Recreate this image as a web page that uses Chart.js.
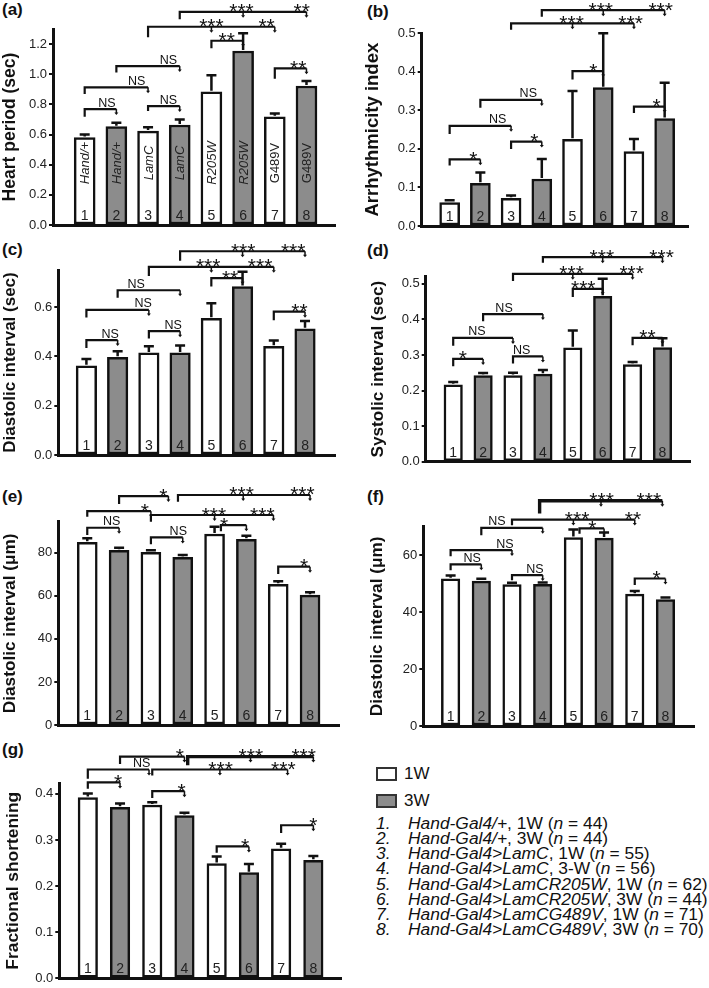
<!DOCTYPE html>
<html>
<head>
<meta charset="utf-8">
<script src="https://cdn.jsdelivr.net/npm/chart.js@4.4.1/dist/chart.umd.min.js"></script>
<style>
  body { margin: 0; background: #fff; font-family: Arial, "Liberation Sans", sans-serif; color: #111; }
  #fig { position: relative; width: 709px; height: 988px; overflow: hidden; background: #fff; }
  canvas { position: absolute; }
  .tag { position: absolute; font-weight: bold; font-size: 17px; line-height: 17px; }
  .row { position: absolute; white-space: nowrap; line-height: 18px; height: 18px; }
  .box { position: absolute; box-sizing: border-box; width: 21px; height: 14px; border: 2px solid #333; }
</style>
</head>
<body>
<div id="fig">
  <div class="tag" style="left:2px;top:1px">(a)</div>
  <div class="tag" style="left:367px;top:3px">(b)</div>
  <div class="tag" style="left:2px;top:241px">(c)</div>
  <div class="tag" style="left:367px;top:242px">(d)</div>
  <div class="tag" style="left:2px;top:488px">(e)</div>
  <div class="tag" style="left:367px;top:488px">(f)</div>
  <div class="tag" style="left:2px;top:741px">(g)</div>

  <canvas id="chart-a" width="352" height="236" style="left:0px;top:0px"></canvas>
  <canvas id="chart-b" width="354" height="236" style="left:355px;top:0px"></canvas>
  <canvas id="chart-c" width="352" height="229" style="left:0px;top:236px"></canvas>
  <canvas id="chart-d" width="354" height="236" style="left:355px;top:236px"></canvas>
  <canvas id="chart-e" width="352" height="253" style="left:0px;top:482px"></canvas>
  <canvas id="chart-f" width="354" height="254" style="left:355px;top:482px"></canvas>
  <canvas id="chart-g" width="355" height="248" style="left:0px;top:740px"></canvas>

  <div id="legend"></div>
</div>
<script>
// Groups 1-8, alternating 1 week / 3 week old flies
const groups = ['1', '2', '3', '4', '5', '6', '7', '8'];
const ages = ['1W', '3W', '1W', '3W', '1W', '3W', '1W', '3W'];
const genotypeTags = ['Hand/+', 'Hand/+', 'LamC', 'LamC', 'R205W', 'R205W', 'G489V', 'G489V'];

// Means and SEM
const heartPeriod = [0.58, 0.652, 0.623, 0.663, 0.884, 1.154, 0.718, 0.922];
const heartPeriodErr = [0.02, 0.027, 0.025, 0.037, 0.11, 0.117, 0.022, 0.033];
const arrhythmicity = [0.061, 0.111, 0.072, 0.122, 0.225, 0.359, 0.193, 0.279];
const arrhythmicityErr = [0.006, 0.028, 0.007, 0.052, 0.125, 0.141, 0.033, 0.093];
const diastolicSec = [0.362, 0.396, 0.414, 0.414, 0.554, 0.683, 0.441, 0.512];
const diastolicSecErr = [0.027, 0.025, 0.027, 0.03, 0.061, 0.06, 0.023, 0.031];
const systolicSec = [0.216, 0.242, 0.242, 0.246, 0.32, 0.465, 0.273, 0.321];
const systolicSecErr = [0.008, 0.007, 0.008, 0.012, 0.049, 0.049, 0.007, 0.026];
const diastolicUm = [84.8, 81.1, 80.2, 77.8, 88.7, 86.2, 65.3, 60.3];
const diastolicUmErr = [1.9, 1.2, 0.9, 1.1, 3.4, 1.7, 1.5, 1.3];
const diameterUm = [51.7, 50.9, 49.7, 49.8, 66.2, 66.0, 46.3, 44.4];
const diameterUmErr = [1.2, 0.8, 0.6, 0.6, 2.8, 2.0, 1.1, 0.7];
const shortening = [0.392, 0.371, 0.376, 0.353, 0.249, 0.229, 0.281, 0.256];
const shorteningErr = [0.009, 0.008, 0.006, 0.006, 0.015, 0.019, 0.011, 0.009];

// Significance brackets: from group, to group(s), height, left leg bottom, labels and their x
const sigA = [
  {from: 1, to: [2], y: 0.769, leg: 0.718, text: ['NS'], at: [1.70]},
  {from: 3, to: [4], y: 0.789, leg: 0.756, text: ['NS'], at: [3.64]},
  {from: 1, to: [3], y: 0.913, leg: 0.869, text: ['NS'], at: [2.64]},
  {from: 2, to: [4], y: 1.054, leg: 1.011, text: ['NS'], at: [3.64]},
  {from: 5, to: [6], y: 1.222, leg: 1.172, text: ['**'], at: [5.48]},
  {from: 7, to: [8], y: 1.039, leg: 0.97, text: ['**'], at: [7.74]},
  {from: 3, to: [5, 7], y: 1.315, leg: 1.245, text: ['***', '**'], at: [5.0, 6.74]},
  {from: 4, to: [6, 8], y: 1.414, leg: 1.364, text: ['***', '**'], at: [5.95, 7.85]}
];
const sigB = [
  {from: 1, to: [2], y: 0.173, leg: 0.157, text: ['*'], at: [1.77]},
  {from: 3, to: [4], y: 0.219, leg: 0.2, text: ['*'], at: [3.76]},
  {from: 1, to: [3], y: 0.26, leg: 0.239, text: ['NS'], at: [2.56]},
  {from: 2, to: [4], y: 0.327, leg: 0.307, text: ['NS'], at: [3.56]},
  {from: 5, to: [6], y: 0.402, leg: 0.38, text: ['*'], at: [5.68]},
  {from: 7, to: [8], y: 0.31, leg: 0.293, text: ['*'], at: [7.74]},
  {from: 3, to: [5, 7], y: 0.526, leg: 0.509, text: ['***', '***'], at: [4.97, 6.89]},
  {from: 4, to: [6, 8], y: 0.56, leg: 0.543, text: ['***', '***'], at: [5.92, 7.87]}
];
const sigC = [
  {from: 1, to: [2], y: 0.466, leg: 0.434, text: ['NS'], at: [1.76]},
  {from: 3, to: [4], y: 0.502, leg: 0.472, text: ['NS'], at: [3.78]},
  {from: 1, to: [3], y: 0.588, leg: 0.557, text: ['NS'], at: [2.82]},
  {from: 2, to: [4], y: 0.668, leg: 0.638, text: ['NS'], at: [2.59]},
  {from: 5, to: [6], y: 0.717, leg: 0.683, text: ['**'], at: [5.6]},
  {from: 7, to: [8], y: 0.581, leg: 0.546, text: ['**'], at: [7.82]},
  {from: 3, to: [5, 7], y: 0.763, leg: 0.726, text: ['***', '***'], at: [4.9, 6.56]},
  {from: 4, to: [6, 8], y: 0.826, leg: 0.787, text: ['***', '***'], at: [6.02, 7.62]}
];
const sigD = [
  {from: 1, to: [2], y: 0.289, leg: 0.268, text: ['*'], at: [1.32]},
  {from: 3, to: [4], y: 0.296, leg: 0.276, text: ['NS'], at: [3.29]},
  {from: 1, to: [3], y: 0.348, leg: 0.326, text: ['NS'], at: [1.79]},
  {from: 2, to: [4], y: 0.415, leg: 0.395, text: ['NS'], at: [2.7]},
  {from: 5, to: [6], y: 0.486, leg: 0.463, text: ['***'], at: [5.35]},
  {from: 7, to: [8], y: 0.348, leg: 0.327, text: ['**'], at: [7.5]},
  {from: 3, to: [5, 7], y: 0.528, leg: 0.508, text: ['***', '***'], at: [4.96, 6.97]},
  {from: 4, to: [6, 8], y: 0.575, leg: 0.559, text: ['***', '***'], at: [5.97, 7.97]}
];
const sigE = [
  {from: 1, to: [2], y: 91.6, leg: 88.2, text: ['NS'], at: [1.77]},
  {from: 3, to: [4], y: 87.1, leg: 83.9, text: ['NS'], at: [3.86]},
  {from: 5.2, to: [6], y: 92.8, leg: 90, text: ['*'], at: [5.3]},
  {from: 7, to: [8], y: 73.5, leg: 70.1, text: ['*'], at: [7.81]},
  {from: 1, to: [3], y: 99.3, leg: 96.7, text: ['*'], at: [2.81]},
  {from: 2, to: [3.55], y: 106.3, leg: 102.6, text: ['*'], at: [3.39]},
  {from: 3, to: [5, 6.85], y: 97.5, leg: 94.4, text: ['***', '***'], at: [4.98, 6.5]},
  {from: 3.85, to: [5.9, 8], y: 106.8, leg: 103.7, text: ['***', '***'], at: [5.85, 7.76]}
];
const sigF = [
  {from: 1, to: [2], y: 56.8, leg: 54.7, text: ['NS'], at: [1.70]},
  {from: 3, to: [4], y: 53.0, leg: 51.2, text: ['NS'], at: [3.75]},
  {from: 1, to: [3], y: 61.8, leg: 59.6, text: ['NS'], at: [2.77]},
  {from: 2, to: [4], y: 69.6, leg: 67.0, text: ['NS'], at: [2.51]},
  {from: 5.2, to: [6], y: 69.4, leg: 67.5, text: ['*'], at: [5.62]},
  {from: 7, to: [8], y: 51.8, leg: 49.5, text: ['*'], at: [7.71]},
  {from: 3, to: [5, 7], y: 72.5, leg: 70.5, text: ['***', '**'], at: [5.12, 6.94]},
  {from: 3.9, to: [5.9, 7.9], y: 79.1, leg: 74.6, text: ['***', '***'], at: [5.92, 7.46], bold: true}
];
const sigG = [
  {from: 1, to: [2], y: 0.425, leg: 0.411, text: ['*'], at: [1.94]},
  {from: 3, to: [4], y: 0.406, leg: 0.391, text: ['*'], at: [3.91]},
  {from: 5, to: [6], y: 0.286, leg: 0.272, text: ['*'], at: [5.88]},
  {from: 7, to: [8], y: 0.332, leg: 0.315, text: ['*'], at: [8.0]},
  {from: 1, to: [2.9], y: 0.453, leg: 0.433, text: ['NS'], at: [2.67]},
  {from: 2, to: [4], y: 0.481, leg: 0.465, text: ['*'], at: [3.86]},
  {from: 3, to: [5.1, 7.2], y: 0.453, leg: 0.44, text: ['***', '***'], at: [5.12, 7.07]},
  {from: 4.1, to: [6.05, 8], y: 0.481, leg: 0.462, text: ['***', '***'], at: [6.06, 7.7], bold: true}
];

// Legend text
const legendAges = ['1W', '3W'];
const legendGenotypes = ['Hand-Gal4/+', 'Hand-Gal4/+', 'Hand-Gal4>LamC', 'Hand-Gal4>LamC',
  'Hand-Gal4>LamCR205W', 'Hand-Gal4>LamCR205W', 'Hand-Gal4>LamCG489V', 'Hand-Gal4>LamCG489V'];
const legendAgeText = ['1W', '3W', '1W', '3-W', '1W', '3W', '1W', '3W'];
const legendN = [44, 44, 55, 56, 62, 44, 71, 70];

const FONT = 'Arial, "Liberation Sans", sans-serif';
const WHITE = '#ffffff';
const GRAY = '#8c8c8c';
const INK = '#111111';

Chart.defaults.font.family = FONT;
Chart.defaults.color = INK;

const panels = [
  {id: 'chart-a', values: heartPeriod, errors: heartPeriodErr, sig: sigA, tags: genotypeTags,
    title: 'Heart period (sec)', max: 1.3, step: 0.2, digits: 1, xMin: 0, xMax: 8.9,
    axisW: 53, pad: {top: 29, right: 17, bottom: 11}, titlePad: 0, titleSize: 17.5, bar: 21},
  {id: 'chart-b', values: arrhythmicity, errors: arrhythmicityErr, sig: sigB,
    title: 'Arrhythmicity index', max: 0.5, step: 0.1, digits: 1, xMin: 0.09, xMax: 8.76,
    axisW: 66.7, pad: {top: 33.3, right: 21, bottom: 10}, titlePad: 6.5, titleSize: 18.5, bar: 20},
  {id: 'chart-c', values: diastolicSec, errors: diastolicSecErr, sig: sigC,
    title: 'Diastolic interval (sec)', max: 0.75, step: 0.2, digits: 1, xMin: 0.1, xMax: 8.96,
    axisW: 58.3, pad: {top: 34, right: 17, bottom: 10}, titlePad: 0, titleSize: 17, bar: 20.5},
  {id: 'chart-d', values: systolicSec, errors: systolicSecErr, sig: sigD,
    title: 'Systolic interval (sec)', max: 0.52, step: 0.1, digits: 1, xMin: 0.08, xMax: 8.92,
    axisW: 70.7, pad: {top: 40.7, right: 19, bottom: 10.3}, titlePad: 13, titleSize: 17.2, bar: 18.5},
  {id: 'chart-e', values: diastolicUm, errors: diastolicUmErr, sig: sigE,
    title: 'Diastolic interval (\u03bcm)', max: 94.4, step: 20, digits: 0, xMin: 0.09, xMax: 8.91,
    axisW: 58.3, pad: {top: 39.7, right: 13, bottom: 10}, titlePad: 0, titleSize: 17.2, bar: 20},
  {id: 'chart-f', values: diameterUm, errors: diameterUmErr, sig: sigF,
    title: 'Diastolic interval (\u03bcm)', max: 70, step: 20, digits: 0, xMin: 0.11, xMax: 8.94,
    axisW: 68.3, pad: {top: 44.7, right: 14.7, bottom: 10}, titlePad: 12, titleSize: 17.2, bar: 18.5},
  {id: 'chart-g', values: shortening, errors: shorteningErr, sig: sigG,
    title: 'Fractional shortening', max: 0.423, step: 0.1, digits: 1, xMin: 0.115, xMax: 8.88,
    axisW: 59.3, pad: {top: 43.3, right: 13.3, bottom: 6.3}, titlePad: 3, titleSize: 17.4, bar: 19.5}
];

function drawBracket(ctx, x, y, b) {
  const yy = y.getPixelForValue(b.y);
  const x0 = x.getPixelForValue(b.from);
  const ends = b.to.map(t => x.getPixelForValue(t));
  const last = Math.max(...ends);

  ctx.lineWidth = b.bold ? 3.4 : 2.2;
  ctx.beginPath();
  ctx.moveTo(x0, y.getPixelForValue(b.leg));
  ctx.lineTo(x0, yy);
  ctx.lineTo(last, yy);
  ctx.stroke();

  // short arrow ticks at the compared groups
  ctx.lineWidth = 1.5;
  ends.forEach(ex => {
    ctx.beginPath();
    ctx.moveTo(ex, yy);
    ctx.lineTo(ex, yy + 4);
    ctx.stroke();
    ctx.beginPath();
    ctx.moveTo(ex - 2, yy + 3.5);
    ctx.lineTo(ex + 2, yy + 3.5);
    ctx.lineTo(ex, yy + 6);
    ctx.closePath();
    ctx.fill();
  });

  ctx.textAlign = 'center';
  ctx.textBaseline = 'alphabetic';
  b.text.forEach((t, k) => {
    const tx = x.getPixelForValue(b.at[k]);
    if (t === 'NS') {
      ctx.font = '12.5px ' + FONT;
      ctx.fillText(t, tx, yy - 2.5);
    } else {
      ctx.font = '21px ' + FONT;
      ctx.fillText(t, tx, yy + 6.5);
    }
  });
}

const figureMarks = {
  id: 'figureMarks',
  afterDatasetsDraw(chart) {
    const p = panels.find(q => q.id === chart.canvas.id);
    const {ctx} = chart;
    const x = chart.scales.x;
    const y = chart.scales.y;
    const base = y.getPixelForValue(0);
    ctx.save();
    ctx.strokeStyle = INK;
    ctx.fillStyle = INK;

    // upper error bars
    p.values.forEach((v, i) => {
      const px = x.getPixelForValue(i + 1);
      const top = y.getPixelForValue(v + p.errors[i]);
      ctx.lineWidth = 2.5;
      ctx.beginPath();
      ctx.moveTo(px, y.getPixelForValue(v) - 1);
      ctx.lineTo(px, top);
      ctx.moveTo(px - 5, top);
      ctx.lineTo(px + 5, top);
      ctx.stroke();
    });

    // group numbers inside the bars
    ctx.font = '14px ' + FONT;
    ctx.textAlign = 'center';
    ctx.textBaseline = 'alphabetic';
    ctx.fillStyle = '#222';
    groups.forEach((g, i) => {
      ctx.fillText(g, x.getPixelForValue(i + 1), base - 5);
    });

    // rotated genotype names (panel a only)
    if (p.tags) {
      p.tags.forEach((t, i) => {
        ctx.save();
        ctx.translate(x.getPixelForValue(i + 1) + 1, base - 62);
        ctx.rotate(-Math.PI / 2);
        ctx.font = (t.startsWith('G') ? '' : 'italic ') + '13px ' + FONT;
        ctx.textBaseline = 'middle';
        ctx.fillText(t, 0, 0);
        ctx.restore();
      });
    }

    ctx.fillStyle = INK;
    p.sig.forEach(b => drawBracket(ctx, x, y, b));
    ctx.restore();
  }
};

panels.forEach(p => {
  new Chart(document.getElementById(p.id), {
    type: 'bar',
    data: {
      datasets: [{
        data: p.values.map((v, i) => ({x: i + 1, y: v})),
        backgroundColor: ages.map(a => a === '1W' ? WHITE : GRAY),
        borderColor: INK,
        borderWidth: 2.5,
        borderSkipped: false,
        barThickness: p.bar
      }]
    },
    options: {
      responsive: false,
      animation: false,
      devicePixelRatio: 1,
      layout: {padding: {left: 0, top: p.pad.top, right: p.pad.right, bottom: p.pad.bottom}},
      plugins: {legend: {display: false}, tooltip: {enabled: false}},
      scales: {
        x: {
          type: 'linear',
          offset: false,
          min: p.xMin,
          max: p.xMax,
          grid: {display: false},
          ticks: {display: false},
          border: {color: INK, width: 3},
          afterFit: s => { s.height = 0; }
        },
        y: {
          min: 0,
          max: p.max,
          border: {color: INK, width: 3},
          grid: {drawOnChartArea: false, drawTicks: true, tickLength: 4, color: INK, lineWidth: 2},
          ticks: {
            stepSize: p.step,
            includeBounds: false,
            padding: 2,
            color: '#222',
            font: {size: 13},
            callback: v => v.toFixed(p.digits)
          },
          title: {
            display: true,
            text: p.title,
            color: INK,
            font: {size: p.titleSize, weight: 'bold'},
            padding: {top: p.titlePad, bottom: 0}
          },
          afterFit: s => { s.width = p.axisW; }
        }
      }
    },
    plugins: [figureMarks]
  });
});

// Legend (HTML)
const legend = document.getElementById('legend');
legendAges.forEach((a, k) => {
  const cy = 774.3 + k * 26.4;
  const box = document.createElement('div');
  box.className = 'box';
  box.style.left = '376px';
  box.style.top = (cy - 7) + 'px';
  box.style.background = a === '1W' ? WHITE : GRAY;
  legend.appendChild(box);
  const lab = document.createElement('div');
  lab.className = 'row';
  lab.style.left = '404px';
  lab.style.top = (cy - 9) + 'px';
  lab.style.fontSize = '17px';
  lab.textContent = a;
  legend.appendChild(lab);
});
legendGenotypes.forEach((g, k) => {
  const cy = 822.7 + k * 15.2;
  const num = document.createElement('div');
  num.className = 'row';
  num.style.left = '376px';
  num.style.top = (cy - 9) + 'px';
  num.style.fontSize = '17.4px';
  num.style.fontStyle = 'italic';
  num.textContent = (k + 1) + '.';
  legend.appendChild(num);
  const row = document.createElement('div');
  row.className = 'row';
  row.style.left = '408px';
  row.style.top = (cy - 9) + 'px';
  row.style.fontSize = '17.4px';
  const gi = document.createElement('i');
  gi.textContent = g;
  row.appendChild(gi);
  row.appendChild(document.createTextNode(', ' + legendAgeText[k] + ' ('));
  const ni = document.createElement('i');
  ni.textContent = 'n';
  row.appendChild(ni);
  row.appendChild(document.createTextNode(' = ' + legendN[k] + ')'));
  legend.appendChild(row);
});
</script>
</body>
</html>
